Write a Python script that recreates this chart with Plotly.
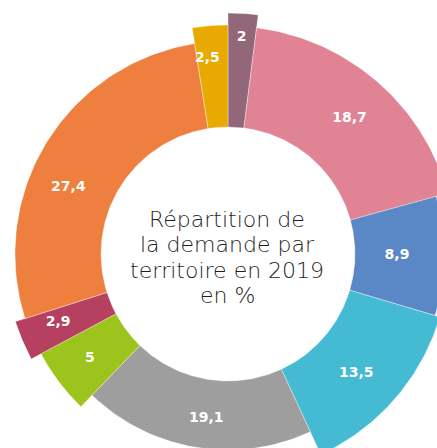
import numpy as np
import plotly.graph_objects as go

# Data (share of demand per territory, 2019, %)
valeurs = [2, 18.7, 8.9, 13.5, 19.1, 5, 2.9, 27.4, 2.5]
couleurs = ["#93677a", "#e08395", "#5a88c6", "#44bbd3", "#9e9e9e",
            "#9dc41d", "#b5405f", "#ee7f3e", "#e8aa00"]
titre_lignes = ["Répartition de", "la demande par", "territoire en 2019", "en %"]

# Styling (outer radius of each slice, label placement)
R_IN = 127
rayons = [241, 228, 216, 221, 196, 212, 223, 213, 229]
label_r = [217, 182, 169, 175, 166, 173, 183, 173, 197]
label_dtheta = [0, 1, 0, 2, -2, 0, 1, -9, -1.5]

fig = go.Figure()
total = sum(valeurs)
cum = np.concatenate([[0], np.cumsum(valeurs)]) / total * 360.0

lx, ly, lt = [], [], []
for i, v in enumerate(valeurs):
    a0, a1 = cum[i], cum[i + 1]
    th = np.radians(np.linspace(a0, a1, 80))
    ro = rayons[i]
    xs = np.concatenate([ro * np.sin(th), R_IN * np.sin(th[::-1])])
    ys = np.concatenate([ro * np.cos(th), R_IN * np.cos(th[::-1])])
    xs = np.append(xs, xs[0])
    ys = np.append(ys, ys[0])
    fig.add_trace(go.Scatter(x=xs, y=ys, fill="toself", mode="lines",
                             fillcolor=couleurs[i],
                             line=dict(color="rgba(255,255,255,0.6)", width=0.6),
                             hoverinfo="skip", showlegend=False))
    am = np.radians((a0 + a1) / 2 + label_dtheta[i])
    lx.append(label_r[i] * np.sin(am))
    ly.append(label_r[i] * np.cos(am))
    lt.append(("%g" % v).replace(".", ","))

fig.add_trace(go.Scatter(x=lx, y=ly, text=lt, mode="text",
                         textfont=dict(color="white", size=14,
                                       family="DejaVu Sans", weight=700),
                         hoverinfo="skip", showlegend=False))

for k, line in enumerate(titre_lignes):
    fig.add_annotation(x=-1, y=35 - k * 25.5, text=line, showarrow=False,
                       font=dict(family="DejaVu Sans", size=22, color="#1e1e1e",
                                 weight=300),
                       xanchor="center", yanchor="middle")

fig.update_layout(
    width=437, height=448,
    margin=dict(l=0, r=0, t=0, b=0),
    paper_bgcolor="white", plot_bgcolor="white",
    xaxis=dict(range=[-228, 209], visible=False, fixedrange=True),
    yaxis=dict(range=[-194, 254], visible=False, fixedrange=True),
)

fig.write_html("out.html", config={"displayModeBar": False},
               post_script="document.body.style.margin='0';document.body.style.overflow='hidden';")
